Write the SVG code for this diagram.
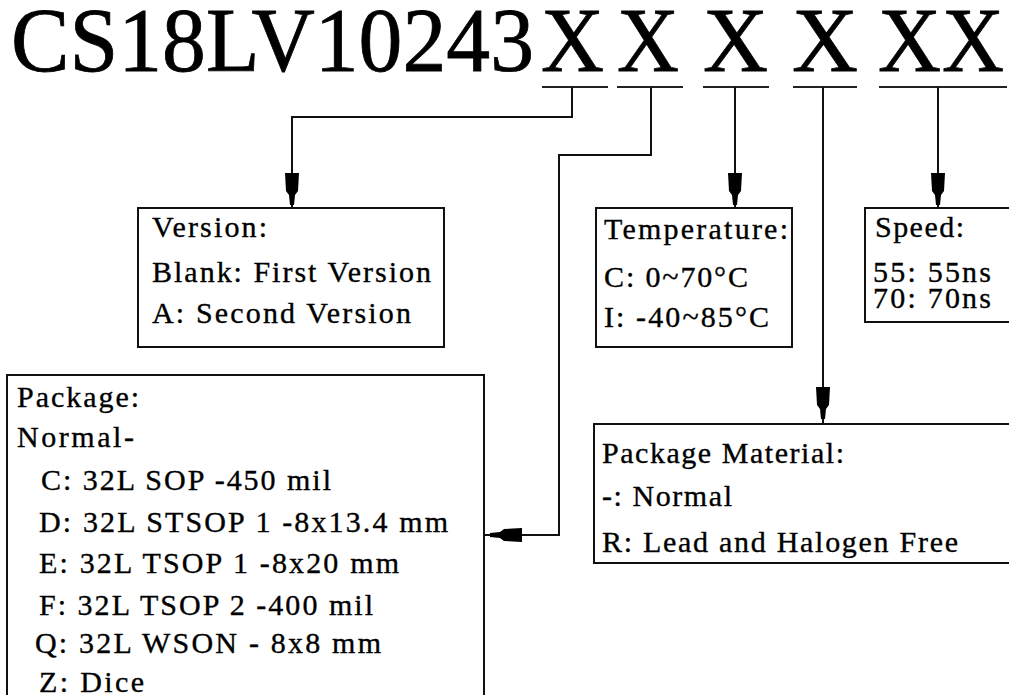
<svg xmlns="http://www.w3.org/2000/svg" width="1009" height="695" viewBox="0 0 1009 695" font-family="'Liberation Serif', 'Times New Roman', serif">
<style>
  .title { font-size: 92px; font-family: 'Liberation Serif', 'Times New Roman', serif; fill: #000; stroke: #000; stroke-width: 0.8; }
  .t { font-size: 30px; font-family: 'Liberation Serif', 'Times New Roman', serif; fill: #000; stroke: #000; stroke-width: 0.35; }
  .box { fill: #fff; stroke: #111; stroke-width: 2; }
  .ln { fill: none; stroke: #111; stroke-width: 2; }
  .bar { fill: none; stroke: #222; stroke-width: 2; }
  .ah { fill: #000; }
</style>
<defs>
  <path id="ahd" d="M-7,-32 L7,-32 L6,-14 L3,-10 L2,0 L-2,0 L-3,-10 L-6,-14 Z"/>
</defs>
<rect width="1009" height="695" fill="#fff"/>

<g id="title">
  <text class="title" x="11" y="71" textLength="523" lengthAdjust="spacingAndGlyphs">CS18LV10243</text>
  <text class="title" x="541" y="71" textLength="63" lengthAdjust="spacingAndGlyphs">X</text>
  <text class="title" x="617" y="71" textLength="62" lengthAdjust="spacingAndGlyphs">X</text>
  <text class="title" x="703" y="71" textLength="65" lengthAdjust="spacingAndGlyphs">X</text>
  <text class="title" x="792" y="71" textLength="66" lengthAdjust="spacingAndGlyphs">X</text>
  <text class="title" x="878" y="71" textLength="63" lengthAdjust="spacingAndGlyphs">X</text>
  <text class="title" x="942" y="71" textLength="62" lengthAdjust="spacingAndGlyphs">X</text>
</g>

<g id="bars">
  <line class="bar" x1="542" y1="87" x2="608" y2="87"/>
  <line class="bar" x1="617" y1="87" x2="683" y2="87"/>
  <line class="bar" x1="703" y1="87" x2="769" y2="87"/>
  <line class="bar" x1="793" y1="87" x2="857" y2="87"/>
  <line class="bar" x1="879" y1="87" x2="1007" y2="87"/>
</g>

<g id="connectors">
  <polyline class="ln" points="572,87 572,117 292,117 292,208"/>
  <use href="#ahd" class="ah" transform="translate(292,205)"/>
  <polyline class="ln" points="651,87 651,155 559,155 559,535 484,535"/>
  <use href="#ahd" class="ah" transform="translate(490,535) rotate(90)"/>
  <line class="ln" x1="735" y1="87" x2="735" y2="208"/>
  <use href="#ahd" class="ah" transform="translate(735,205)"/>
  <line class="ln" x1="823" y1="87" x2="823" y2="424"/>
  <use href="#ahd" class="ah" transform="translate(823,419)"/>
  <line class="ln" x1="938" y1="87" x2="938" y2="208"/>
  <use href="#ahd" class="ah" transform="translate(938,205)"/>
</g>

<g id="version">
  <rect class="box" x="138" y="208" width="306" height="139"/>
  <text class="t" x="152" y="237" textLength="115" lengthAdjust="spacing">Version:</text>
  <text class="t" x="152" y="282" textLength="279" lengthAdjust="spacing">Blank: First Version</text>
  <text class="t" x="152" y="323" textLength="259" lengthAdjust="spacing">A: Second Version</text>
</g>

<g id="temperature">
  <rect class="box" x="596" y="208" width="196" height="139"/>
  <text class="t" x="604" y="239" textLength="184" lengthAdjust="spacing">Temperature:</text>
  <text class="t" x="604" y="287" textLength="144" lengthAdjust="spacing">C: 0~70°C</text>
  <text class="t" x="604" y="327" textLength="165" lengthAdjust="spacing">I: -40~85°C</text>
</g>

<g id="speed">
  <rect class="box" x="865" y="208" width="150" height="114"/>
  <text class="t" x="875" y="237" textLength="89" lengthAdjust="spacing">Speed:</text>
  <text class="t" x="873" y="282" textLength="118" lengthAdjust="spacing">55: 55ns</text>
  <text class="t" x="873" y="308" textLength="118" lengthAdjust="spacing">70: 70ns</text>
</g>

<g id="package">
  <rect class="box" x="7" y="375" width="477" height="340"/>
  <text class="t" x="17" y="407" textLength="122" lengthAdjust="spacing">Package:</text>
  <text class="t" x="17" y="447" textLength="117" lengthAdjust="spacing">Normal-</text>
  <text class="t" x="41" y="490" textLength="290" lengthAdjust="spacing">C: 32L SOP -450 mil</text>
  <text class="t" x="39" y="532" textLength="409" lengthAdjust="spacing">D: 32L STSOP 1 -8x13.4 mm</text>
  <text class="t" x="39" y="573" textLength="360" lengthAdjust="spacing">E: 32L TSOP 1 -8x20 mm</text>
  <text class="t" x="39" y="615" textLength="334" lengthAdjust="spacing">F: 32L TSOP 2 -400 mil</text>
  <text class="t" x="35" y="653" textLength="346" lengthAdjust="spacing">Q: 32L WSON - 8x8 mm</text>
  <text class="t" x="39" y="692" textLength="105" lengthAdjust="spacing">Z: Dice</text>
</g>

<g id="material">
  <rect class="box" x="594" y="424" width="420" height="139"/>
  <text class="t" x="602" y="463" textLength="242" lengthAdjust="spacing">Package Material:</text>
  <text class="t" x="602" y="506" textLength="130" lengthAdjust="spacing">-: Normal</text>
  <text class="t" x="602" y="552" textLength="356" lengthAdjust="spacing">R: Lead and Halogen Free</text>
</g>
</svg>
